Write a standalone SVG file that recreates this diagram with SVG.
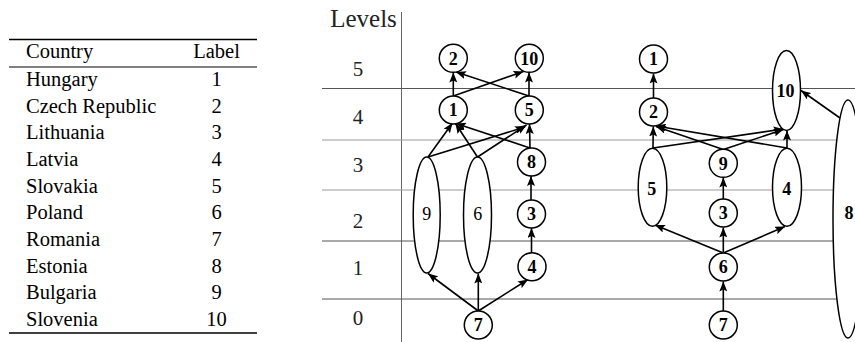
<svg xmlns="http://www.w3.org/2000/svg" width="855" height="342" viewBox="0 0 855 342">
<style>
.t{font-family:'Liberation Serif','Times New Roman',Times,'DejaVu Serif',serif;font-size:20.5px;fill:#000}
.lv{font-family:'Liberation Serif','Times New Roman',Times,'DejaVu Serif',serif;font-size:21px;fill:#222;text-anchor:middle}
.nd{fill:#fff;stroke:#000;stroke-width:1.5}
.nl{font-family:'Liberation Serif','Times New Roman',Times,'DejaVu Serif',serif;font-size:18px;font-weight:bold;text-anchor:middle;fill:#000}
.el{font-family:'Liberation Serif','Times New Roman',Times,'DejaVu Serif',serif;font-size:18px;text-anchor:middle;fill:#000}
.e{stroke:#000;stroke-width:1.6;fill:none;marker-end:url(#ah)}
.gd{stroke:#555;stroke-width:1}
.gl{stroke:#999;stroke-width:1}
</style>
<defs>
<marker id="ah" markerUnits="userSpaceOnUse" markerWidth="10" markerHeight="8" refX="10" refY="4" orient="auto">
<path d="M0,0 L10,4 L0,8 L2,4 z" fill="#000"/>
</marker>
</defs>
<rect width="855" height="342" fill="#fff"/>

<g id="table">
<line x1="9" y1="39.5" x2="257" y2="39.5" stroke="#000" stroke-width="1.6"/>
<line x1="9" y1="67" x2="257" y2="67" stroke="#000" stroke-width="1"/>
<line x1="9" y1="333" x2="257" y2="333" stroke="#000" stroke-width="1.6"/>
<text class="t" x="26" y="58.3">Country</text>
<text class="t" x="216.5" y="58.3" text-anchor="middle">Label</text>
<text class="t" x="26" y="86">Hungary</text><text class="t" x="216.5" y="86" text-anchor="middle">1</text>
<text class="t" x="26" y="112.7">Czech Republic</text><text class="t" x="216.5" y="112.7" text-anchor="middle">2</text>
<text class="t" x="26" y="139.3">Lithuania</text><text class="t" x="216.5" y="139.3" text-anchor="middle">3</text>
<text class="t" x="26" y="166">Latvia</text><text class="t" x="216.5" y="166" text-anchor="middle">4</text>
<text class="t" x="26" y="192.7">Slovakia</text><text class="t" x="216.5" y="192.7" text-anchor="middle">5</text>
<text class="t" x="26" y="219.3">Poland</text><text class="t" x="216.5" y="219.3" text-anchor="middle">6</text>
<text class="t" x="26" y="246">Romania</text><text class="t" x="216.5" y="246" text-anchor="middle">7</text>
<text class="t" x="26" y="272.7">Estonia</text><text class="t" x="216.5" y="272.7" text-anchor="middle">8</text>
<text class="t" x="26" y="299.3">Bulgaria</text><text class="t" x="216.5" y="299.3" text-anchor="middle">9</text>
<text class="t" x="26" y="326">Slovenia</text><text class="t" x="216.5" y="326" text-anchor="middle">10</text>
</g>

<g id="levels">
<line x1="401.5" y1="12" x2="401.5" y2="342" stroke="#666" stroke-width="1"/>
<line class="gd" x1="322" y1="88.5" x2="855" y2="88.5"/>
<line class="gl" x1="322" y1="140" x2="855" y2="140"/>
<line class="gl" x1="322" y1="190" x2="855" y2="190"/>
<line class="gd" x1="322" y1="241" x2="855" y2="241"/>
<line class="gd" x1="322" y1="299" x2="855" y2="299"/>
<text class="lv" x="363.5" y="26.7" style="font-size:25px">Levels</text>
<text class="lv" x="358" y="76">5</text>
<text class="lv" x="358" y="124">4</text>
<text class="lv" x="358" y="171.7">3</text>
<text class="lv" x="358" y="228">2</text>
<text class="lv" x="358" y="275">1</text>
<text class="lv" x="358" y="325">0</text>
</g>

<g id="connectors">
<line class="e" x1="453.3" y1="96" x2="453.3" y2="72.5"/>
<line class="e" x1="453.3" y1="96" x2="523.5" y2="71.5"/>
<line class="e" x1="529" y1="96" x2="456" y2="72"/>
<line class="e" x1="529" y1="96" x2="529" y2="72.5"/>
<line class="e" x1="428" y1="157" x2="452.5" y2="123"/>
<line class="e" x1="477.5" y1="157" x2="455.5" y2="123.5"/>
<line class="e" x1="530" y1="148" x2="456" y2="123.5"/>
<line class="e" x1="428" y1="157" x2="525" y2="127"/>
<line class="e" x1="477.5" y1="157" x2="526.5" y2="125"/>
<line class="e" x1="530" y1="148" x2="529.5" y2="124"/>
<line class="e" x1="531" y1="200" x2="531" y2="176"/>
<line class="e" x1="531.5" y1="253" x2="531.5" y2="228"/>
<line class="e" x1="478.3" y1="311" x2="428" y2="273.5"/>
<line class="e" x1="478.3" y1="311" x2="478.3" y2="273.5"/>
<line class="e" x1="478.3" y1="311" x2="528" y2="279.5"/>
<line class="e" x1="653.5" y1="98" x2="653.5" y2="73.5"/>
<line class="e" x1="653" y1="148" x2="653.3" y2="126.5"/>
<line class="e" x1="723.3" y1="149.5" x2="656" y2="126.5"/>
<line class="e" x1="787" y1="148" x2="656" y2="126"/>
<line class="e" x1="653" y1="148" x2="783.5" y2="129"/>
<line class="e" x1="723.3" y1="149.5" x2="783.5" y2="129.5"/>
<line class="e" x1="787" y1="148" x2="787" y2="130.5"/>
<line class="e" x1="723.3" y1="199.5" x2="723.3" y2="177.5"/>
<line class="e" x1="723.3" y1="253" x2="723.3" y2="227.5"/>
<line class="e" x1="723.3" y1="253" x2="655" y2="225"/>
<line class="e" x1="723.3" y1="253" x2="785" y2="226.5"/>
<line class="e" x1="723.3" y1="311" x2="723.3" y2="281.5"/>
<line class="e" x1="840" y1="118" x2="801" y2="90.5"/>
</g>

<g id="L2"><circle class="nd" cx="453.3" cy="58.3" r="14"/><text class="nl" x="453.3" y="64.5">2</text></g>
<g id="L10"><circle class="nd" cx="529.3" cy="58.3" r="14"/><text class="nl" x="529.3" y="64.5">10</text></g>
<g id="L1"><circle class="nd" cx="453.3" cy="110" r="14"/><text class="nl" x="453.3" y="116.2">1</text></g>
<g id="L5"><circle class="nd" cx="529.3" cy="110" r="14"/><text class="nl" x="529.3" y="116.2">5</text></g>
<g id="L8"><circle class="nd" cx="531.5" cy="162" r="14"/><text class="nl" x="531.5" y="168.2">8</text></g>
<g id="L3"><circle class="nd" cx="531.5" cy="214" r="14"/><text class="nl" x="531.5" y="220.2">3</text></g>
<g id="L4"><circle class="nd" cx="532" cy="266.7" r="14"/><text class="nl" x="532" y="272.9">4</text></g>
<g id="L7"><circle class="nd" cx="478.3" cy="325" r="14"/><text class="nl" x="478.3" y="331.2">7</text></g>
<g id="L9"><ellipse class="nd" fill="none" cx="426.7" cy="215" rx="13.5" ry="58"/><text class="el" x="426.7" y="219.5">9</text></g>
<g id="L6"><ellipse class="nd" fill="none" cx="477.5" cy="215" rx="14" ry="58"/><text class="el" x="477.7" y="219.5">6</text></g>

<g id="R1"><circle class="nd" cx="653.5" cy="59" r="14"/><text class="nl" x="653.5" y="65.2">1</text></g>
<g id="R2"><circle class="nd" cx="653.5" cy="112" r="14"/><text class="nl" x="653.5" y="118.2">2</text></g>
<g id="R10"><ellipse class="nd" fill="none" cx="786.5" cy="90.5" rx="14" ry="40"/><text class="nl" x="785.5" y="97.2">10</text></g>
<g id="R9"><circle class="nd" cx="723.3" cy="163.3" r="14"/><text class="nl" x="723.3" y="169.5">9</text></g>
<g id="R5"><ellipse class="nd" fill="none" cx="652.5" cy="187.3" rx="14.3" ry="39"/><text class="nl" x="651.7" y="195.2">5</text></g>
<g id="R4"><ellipse class="nd" fill="none" cx="787" cy="187.3" rx="14.5" ry="39"/><text class="nl" x="786.7" y="195.2">4</text></g>
<g id="R3"><circle class="nd" cx="723.3" cy="213" r="14"/><text class="nl" x="723.3" y="219.2">3</text></g>
<g id="R6"><circle class="nd" cx="723.3" cy="267" r="14"/><text class="nl" x="723.3" y="273.2">6</text></g>
<g id="R7"><circle class="nd" cx="723.3" cy="325" r="14"/><text class="nl" x="723.3" y="331.2">7</text></g>
<g id="R8"><ellipse class="nd" fill="none" cx="848" cy="219" rx="15" ry="119"/><text class="nl" x="849" y="219.2">8</text></g>
</svg>
